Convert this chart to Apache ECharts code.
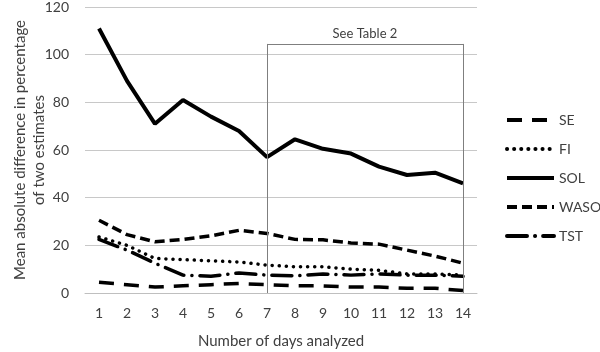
<!DOCTYPE html>
<html>
<head>
<meta charset="utf-8">
<script src="https://cdn.jsdelivr.net/npm/echarts@6/dist/echarts.min.js"></script>
<style>
html,body{margin:0;padding:0;background:#fff;}
#chart{width:600px;height:352px;}
</style>
</head>
<body>
<div id="chart"></div>
<script>
var days = ["1","2","3","4","5","6","7","8","9","10","11","12","13","14"];
var se   = [4.5, 3.5, 2.5, 3, 3.5, 4, 3.5, 3, 3, 2.5, 2.5, 2, 2, 1];
var fi   = [23.5, 20, 14.5, 14, 13.5, 13, 11.7, 11, 11, 10, 9.5, 8, 8, 7.5];
var sol  = [111, 89, 71, 81, 74, 68, 57, 64.5, 60.5, 58.5, 53, 49.5, 50.5, 46];
var waso = [30.5, 24.5, 21.5, 22.5, 24, 26.3, 25, 22.5, 22.3, 21, 20.5, 18, 15.5, 12.5];
var tst  = [22.5, 18, 12.5, 7.5, 7, 8.4, 7.5, 7.2, 8, 7.5, 8, 7.5, 7.5, 7];
var boxTop = 104.5;

var myChart = echarts.init(document.getElementById('chart'));
var font = 'Lato';
function ln(name, data, type, cap, w){
	return {
		name: name,
		type: 'line',
		data: data,
		symbol: 'none',
		smooth: false,
		lineStyle: {color: '#000', width: w || 3.5, type: type, cap: cap || 'butt'},
		itemStyle: {color: '#000'},
		z: 3
	};
}
var series = [
	ln('SE', se, [15, 10]),
	ln('FI', fi, [0.1, 7], 'round'),
	ln('SOL', sol, 'solid', 'butt', 4),
	ln('WASO', waso, [10, 5]),
	ln('TST', tst, [20, 8, 0.1, 8], 'round')
];
// "See Table 2" box
series.push({
	type: 'line',
	data: [],
	silent: true,
	markLine: {
		symbol: 'none',
		animation: false,
		lineStyle: {color: '#7f7f7f', width: 1, type: 'solid'},
		label: {show: false},
		data: [
			[{coord: ['7', 0]}, {coord: ['7', boxTop]}],
			[{coord: ['14', 0]}, {coord: ['14', boxTop]}],
			[{coord: ['7', boxTop]}, {coord: ['14', boxTop],
				label: {show: true, position: 'middle', formatter: 'See Table 2', color: '#404040', fontSize: 13, fontFamily: font, distance: 4}}]
		]
	}
});
var option = {
	animation: false,
	grid: {left: 85, right: 123, top: 7, bottom: 59, containLabel: false, outerBoundsMode: 'none'},
	legend: {
		orient: 'vertical',
		left: 505,
		top: 113,
		padding: 0,
		itemWidth: 47,
		itemHeight: 14,
		itemGap: 15,
		data: ['SE','FI','SOL','WASO','TST'],
		itemStyle: {opacity: 0},
		lineStyle: {width: 4},
		textStyle: {color: '#404040', fontSize: 14, fontFamily: font}
	},
	xAxis: {
		type: 'category',
		data: days,
		boundaryGap: true,
		name: 'Number of days analyzed',
		nameLocation: 'middle',
		nameGap: 41,
		nameTextStyle: {color: '#404040', fontSize: 15, fontFamily: font},
		axisLine: {lineStyle: {color: '#bfbfbf'}},
		axisTick: {show: false},
		axisLabel: {color: '#404040', fontSize: 14, fontFamily: font, margin: 13}
	},
	yAxis: {
		type: 'value',
		min: 0,
		max: 120,
		interval: 20,
		name: 'Mean absolute difference in percentage\nof two estimates',
		nameLocation: 'middle',
		nameGap: 36,
		nameMoveOverlap: false,
		nameTextStyle: {color: '#404040', fontSize: 15, fontFamily: font, lineHeight: 19},
		axisLine: {show: false},
		axisTick: {show: false},
		splitLine: {lineStyle: {color: '#c8c8c8'}},
		axisLabel: {color: '#404040', fontSize: 14, fontFamily: font, margin: 16}
	},
	series: series
};
myChart.setOption(option);
</script>
</body>
</html>
